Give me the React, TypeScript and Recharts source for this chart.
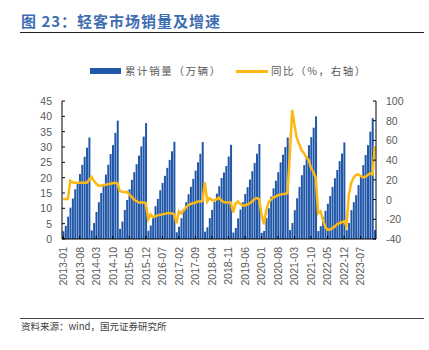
import { ComposedChart, Bar, Line, XAxis, YAxis } from 'recharts';

// 累计销量（万辆），每年 1-12 月
const sales2013 = [2.5, 4.3, 7.3, 10.2, 13.2, 16.2, 18.3, 21.2, 24.2, 26.8, 29.8, 33.1];
const sales2014 = [2.8, 5.2, 8.8, 12.0, 15.0, 18.0, 21.0, 24.2, 27.7, 30.6, 34.6, 38.6];
const sales2015 = [3.3, 5.7, 9.5, 12.7, 16.2, 19.3, 21.8, 24.4, 27.2, 30.2, 33.4, 37.8];
const sales2016 = [2.7, 4.4, 7.3, 10.7, 13.1, 15.9, 18.3, 20.6, 23.2, 25.8, 28.6, 31.7];
const sales2017 = [2.2, 4.0, 6.8, 9.8, 12.0, 14.6, 17.0, 19.6, 22.3, 25.0, 27.8, 31.6];
const sales2018 = [2.4, 3.8, 6.8, 9.5, 12.1, 14.8, 17.2, 19.9, 21.7, 23.8, 26.9, 30.7];
const sales2019 = [2.1, 3.6, 6.7, 9.6, 12.0, 14.7, 16.9, 19.4, 22.1, 24.8, 27.8, 31.0];
const sales2020 = [2.0, 2.6, 6.8, 10.0, 13.8, 16.5, 19.0, 21.8, 25.0, 27.5, 30.0, 33.1];
const sales2021 = [2.9, 5.2, 9.4, 13.3, 17.0, 20.8, 24.1, 27.0, 30.6, 33.2, 36.3, 40.0];
const sales2022 = [2.6, 4.2, 7.2, 9.2, 11.5, 14.0, 17.0, 19.8, 22.5, 25.4, 27.9, 31.5];
const sales2023 = [2.9, 5.2, 9.4, 12.0, 14.3, 17.6, 20.8, 24.1, 27.4, 30.6, 35.0, 39.4];
const sales2024 = [2.9];

// 同比（%）
const yoy2013 = [0.5, 0.5, 0.5, 19, 17.5, 17, 17, 17, 17, 17, 17, 20];
const yoy2014 = [23, 19, 16, 14, 14, 14.5, 15, 15.5, 16, 16.5, 17, 16.5];
const yoy2015 = [8.5, 8, 7.5, 8, 5, 3, 0, -1.5, -3, -3, -3, -3.5];
const yoy2016 = [-20, -15, -18, -17, -16, -15.5, -15, -14.5, -14, -14, -14, -15];
const yoy2017 = [-24, -12, -14, -11, -8, -5.5, -4.5, -3.8, -3, -2, -2, -1.5];
const yoy2018 = [17.5, -2, 1.5, -0.5, -1, 0.5, 2, -1, -2.5, -3, -3, -3];
const yoy2019 = [-13, -4, -2, -4.5, -6, -6, -5, -4, -2, 0.5, 1.5, 0.5];
const yoy2020 = [-15, -25, -11, -3, 0, 2, 3, 4.5, 5, 5.5, 6, 6.5];
const yoy2021 = [45, 91, 75, 62, 56, 50, 47, 43, 40, 32, 28, 22];
const yoy2022 = [-14, -12, -20, -28, -30.5, -30.5, -29, -27.5, -25, -24, -23, -22];
const yoy2023 = [-27, 5, 17, 22, 25, 25.5, 24, 22.5, 23, 25, 26.5, 25.5];
const yoy2024 = [54];

const sales = [
  ...sales2013, ...sales2014, ...sales2015, ...sales2016, ...sales2017, ...sales2018,
  ...sales2019, ...sales2020, ...sales2021, ...sales2022, ...sales2023, ...sales2024,
];
const yoy = [
  ...yoy2013, ...yoy2014, ...yoy2015, ...yoy2016, ...yoy2017, ...yoy2018,
  ...yoy2019, ...yoy2020, ...yoy2021, ...yoy2022, ...yoy2023, ...yoy2024,
];

const monthLabels: string[] = [];
for (let y = 2013; y <= 2024; y++) {
  for (let m = 1; m <= 12; m++) monthLabels.push(`${y}-${String(m).padStart(2, '0')}`);
}

const leftTicks = [0, 5, 10, 15, 20, 25, 30, 35, 40, 45];
const rightTicks = [-40, -20, 0, 20, 40, 60, 80, 100];

const data = sales.map((v, i) => ({ month: monthLabels[i], sales: v, yoy: yoy[i] }));

const BAR_COLOR = '#2157A8';
const LINE_COLOR = '#FDB813';
const TICK_COLOR = '#595959';
const NUM_FONT = '"Liberation Sans", Arial, sans-serif';
const CJK_FONT = '"Noto Sans CJK SC", "Noto Sans", sans-serif';
const GAP = 10;

function LeftTick({ x, y, payload }: any) {
  return (
    <g>
      <line x1={x + GAP} x2={x + GAP + 3} y1={y} y2={y} stroke="#000" />
      <text x={x} y={y} dy={4} textAnchor="end" fontSize={10.5} fill={TICK_COLOR} fontFamily={NUM_FONT}>
        {payload.value}
      </text>
    </g>
  );
}

function RightTick({ x, y, payload }: any) {
  return (
    <g>
      <line x1={x - GAP} x2={x - GAP - 3} y1={y} y2={y} stroke="#000" />
      <text x={x} y={y} dy={4} textAnchor="start" fontSize={10.5} fill={TICK_COLOR} fontFamily={NUM_FONT}>
        {payload.value}
      </text>
    </g>
  );
}

function MonthTick({ x, y, payload }: any) {
  return (
    <g transform={`translate(${x},${y})`}>
      <line x1={0} x2={0} y1={-8} y2={-11} stroke="#000" />
      <text transform="rotate(-90)" textAnchor="end" dy={3.8} fontSize={10.5} fill={TICK_COLOR} fontFamily={NUM_FONT}>
        {payload.value}
      </text>
    </g>
  );
}

function LegendBox() {
  const txt = { fontSize: 10.5, color: TICK_COLOR, fontFamily: CJK_FONT, letterSpacing: 1.6 };
  return (
    <div style={{ position: 'absolute', left: 0, top: 63, width: 429, height: 16 }}>
      <div style={{ position: 'absolute', left: 90, top: 5, width: 31, height: 6, background: BAR_COLOR }} />
      <div style={{ position: 'absolute', left: 125, top: 0, whiteSpace: 'nowrap', ...txt }}>累计销量（万辆）</div>
      <div style={{ position: 'absolute', left: 236, top: 7, width: 32, height: 2.5, background: LINE_COLOR }} />
      <div style={{ position: 'absolute', left: 271, top: 0, whiteSpace: 'nowrap', ...txt }}>同比（%，右轴）</div>
    </div>
  );
}

export default function App() {
  return (
    <div style={{ position: 'absolute', left: 0, top: 0, width: 429, height: 350, background: '#fff' }}>
      <div
        style={{
          position: 'absolute', left: 21, top: 10, fontSize: 15, fontWeight: 600,
          color: '#3F6DB2', fontFamily: CJK_FONT, whiteSpace: 'nowrap', letterSpacing: 1,
        }}
      >
        图 23：轻客市场销量及增速
      </div>
      <div style={{ position: 'absolute', left: 20, top: 32, width: 404, height: 1, background: '#222' }} />
      <LegendBox />
      <ComposedChart
        width={429}
        height={350}
        data={data}
        margin={{ top: 101, right: 13, bottom: 61, left: 22 }}
        barCategoryGap="18%"
      >
        <XAxis
          dataKey="month"
          interval={6}
          tick={<MonthTick />}
          tickLine={false}
          tickSize={0}
          tickMargin={8}
          height={50}
          axisLine={{ stroke: '#000' }}
        />
        <YAxis
          yAxisId="left"
          domain={[0, 45]}
          ticks={leftTicks}
          width={40}
          tick={<LeftTick />}
          tickLine={false}
          tickSize={0}
          tickMargin={GAP}
          axisLine={{ stroke: '#000' }}
          interval={0}
        />
        <YAxis
          yAxisId="right"
          orientation="right"
          domain={[-40, 100]}
          ticks={rightTicks}
          width={40}
          tick={<RightTick />}
          tickLine={false}
          tickSize={0}
          tickMargin={GAP}
          axisLine={{ stroke: '#000' }}
          interval={0}
        />
        <Bar yAxisId="left" dataKey="sales" name="累计销量（万辆）" fill={BAR_COLOR} isAnimationActive={false} />
        <Line
          yAxisId="right"
          type="linear"
          dataKey="yoy"
          name="同比（%，右轴）"
          stroke={LINE_COLOR}
          strokeWidth={2.5}
          dot={false}
          isAnimationActive={false}
        />
      </ComposedChart>
      <div style={{ position: 'absolute', left: 20, top: 318, width: 404, height: 1, background: '#444' }} />
      <div
        style={{
          position: 'absolute', left: 21, top: 319, fontSize: 9.5, color: '#404040',
          fontFamily: CJK_FONT, whiteSpace: 'nowrap',
        }}
      >
        资料来源：wind，国元证券研究所
      </div>
    </div>
  );
}
